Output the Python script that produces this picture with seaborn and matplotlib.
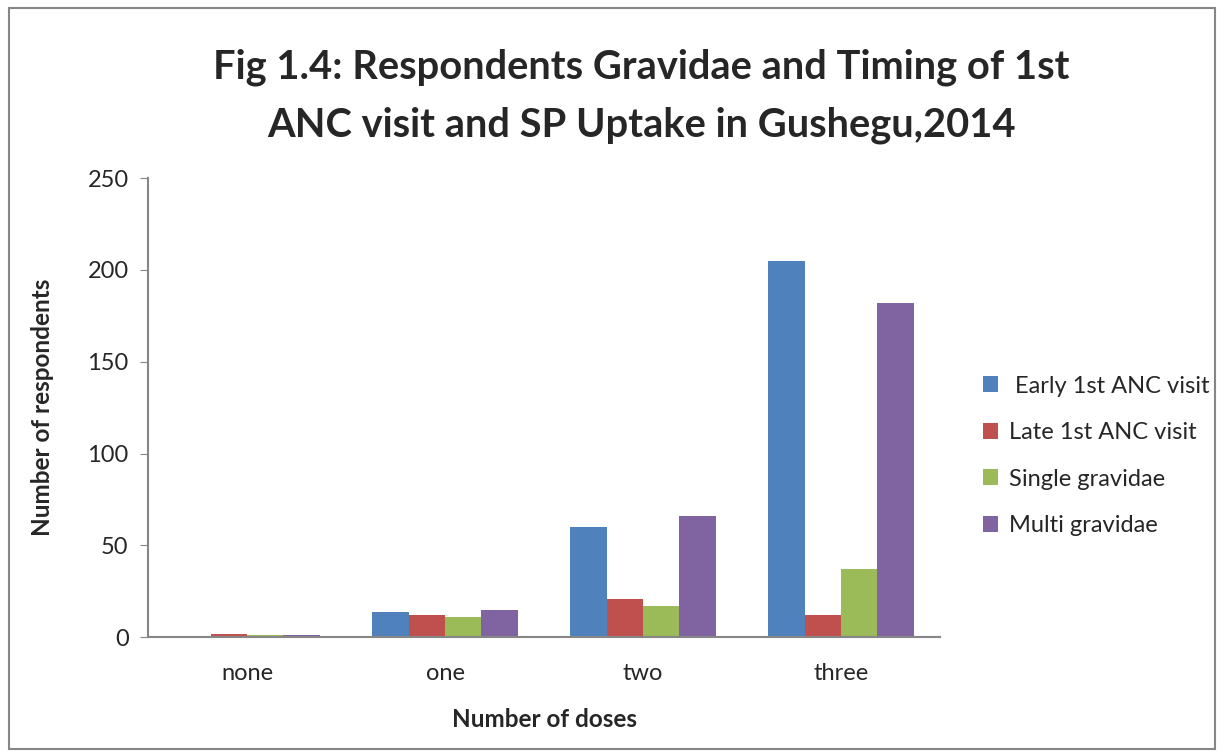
import numpy as np
import pandas as pd
import matplotlib
matplotlib.use("Agg")
import matplotlib.pyplot as plt
import seaborn as sns
from matplotlib.patches import Rectangle

# ── data ─────────────────────────────────────────────────────
doses = ["none", "one", "two", "three"]
series = [" Early 1st ANC visit", "Late 1st ANC visit", "Single gravidae", "Multi gravidae"]
early = [0, 14, 60, 205]
late = [2, 12, 21, 12]
single = [1, 11, 17, 37]
multi = [1, 15, 66, 182]
colors = ["#4F81BD", "#C0504D", "#9BBB59", "#8064A2"]

df = pd.DataFrame({"doses": doses * 4,
                   "group": np.repeat(series, 4),
                   "count": early + late + single + multi})

sns.set_style("white")
plt.rcParams["font.family"] = ["Lato", "DejaVu Sans"]

fig = plt.figure(figsize=(12.24, 7.55), dpi=100)
ax = fig.add_axes([0.121, 0.156, 0.647, 0.608])

sns.barplot(data=df, x="doses", y="count", hue="group", order=doses,
            hue_order=series, palette=colors, width=0.735, saturation=1,
            ax=ax, edgecolor="none")

ax.set_ylim(0, 250)
ax.set_xlim(-0.5, 3.5)
ax.set_yticks(range(0, 251, 50))
ax.tick_params(axis="y", left=True, length=6, color="#868686", labelsize=17, pad=8)
ax.tick_params(axis="x", bottom=False, labelsize=17, pad=15)
for s in ["top", "right"]:
    ax.spines[s].set_visible(False)
for s in ["left", "bottom"]:
    ax.spines[s].set_color("#868686")
    ax.spines[s].set_linewidth(1.5)

ax.set_xlabel("Number of doses", fontsize=17.5, fontweight="bold", labelpad=17)
ax.set_ylabel("Number of respondents", fontsize=17.5, fontweight="bold", labelpad=24)

fig.suptitle("Fig 1.4: Respondents Gravidae and Timing of 1st\nANC visit and SP Uptake in Gushegu,2014",
             fontsize=28.7, fontweight="bold", x=0.524, y=0.936, linespacing=1.7)

leg = ax.legend(loc="center left", bbox_to_anchor=(1.054, 0.395), frameon=False,
                fontsize=17, labelspacing=1.08, handlelength=0.65, handleheight=0.65,
                handletextpad=0.45, borderpad=0, borderaxespad=0)

# outer frame like the chart area border
fig.patches.append(Rectangle((0.007, 0.008), 0.986, 0.982, transform=fig.transFigure,
                             fill=False, edgecolor="#868686", linewidth=1.5))

plt.savefig("out.png", dpi=100)
plt.close()
